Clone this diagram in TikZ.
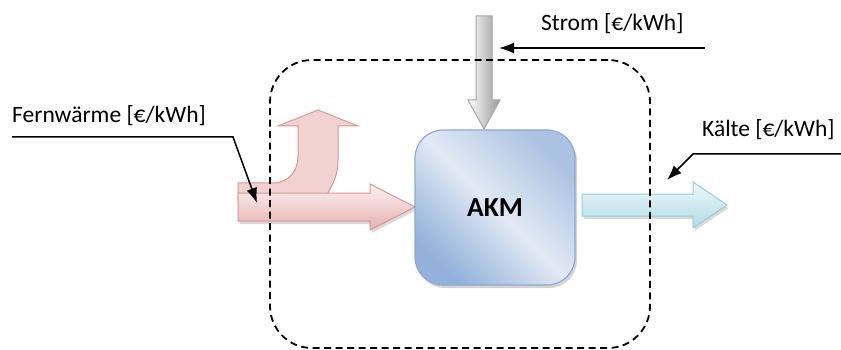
\documentclass[tikz,border=0pt]{standalone}
\usepackage{fontspec}
\setmainfont{Carlito}
\usetikzlibrary{arrows.meta,shadows}
\definecolor{akmdark}{HTML}{93B1DA}
\definecolor{akmlight}{HTML}{E2EAF4}
\definecolor{akmborder}{HTML}{8DA9D2}
\definecolor{redtop}{HTML}{FCF1F1}
\definecolor{redbot}{HTML}{E5B1B0}
\definecolor{redborder}{HTML}{D99593}
\definecolor{bentfill}{HTML}{F2D2D1}
\definecolor{cyantop}{HTML}{EEF8FA}
\definecolor{cyanbot}{HTML}{B2DCE6}
\definecolor{cyanborder}{HTML}{93CDDC}
\definecolor{grayborder}{HTML}{A6A6A6}
\definecolor{grayfill}{HTML}{989898}
\begin{document}
\begin{tikzpicture}[x=1pt,y=-1pt,
  lbl/.style={font=\fontsize{23.5}{28}\selectfont, inner sep=0pt, text=black},
  akmbox/.style={draw=akmborder, line width=1.2pt, rounded corners=28pt,
    minimum width=160pt, minimum height=155pt,
    left color=akmdark, right color=akmdark!70!akmlight, middle color=akmlight, shading angle=135,
    drop shadow={shadow xshift=2pt, shadow yshift=-3pt, opacity=0.35},
    font=\bfseries\fontsize{27.5}{32}\selectfont},
  sysbox/.style={draw=black, line width=1.8pt, dash pattern=on 7pt off 4.5pt,
    rounded corners=42pt, minimum width=380pt, minimum height=288pt},
  redarrow/.style={draw=redborder, line width=1pt, top color=redtop, bottom color=redbot,
    drop shadow={shadow xshift=1.5pt, shadow yshift=-3pt, opacity=0.3}},
  bentarrow/.style={draw=redborder, line width=1pt, fill=bentfill},
  cyanarrow/.style={draw=cyanborder, line width=1pt, top color=cyantop, bottom color=cyanbot,
    drop shadow={shadow xshift=1.5pt, shadow yshift=-3pt, opacity=0.3}},
  grayarrow/.style={draw=grayborder, line width=1pt, left color=white, right color=grayfill},
  pointer/.style={draw=black, line width=1.5pt, -{Latex[length=15pt,width=11pt]}}
]
\useasboundingbox (0,0) rectangle (841,350);

% bent (upward) red arrow
\path[bentarrow] (238,183) -- (272,183) .. controls (288,183) and (298,172) .. (298,156)
  -- (298,126) -- (278,126) -- (318,110) -- (358,126) -- (338,126) -- (338,160)
  .. controls (338,178) and (330,190) .. (323,200) -- (238,200) -- cycle;
% main red arrow
\path[redarrow] (238,193) -- (370,193) -- (370,184) -- (415,207) -- (370,230)
  -- (370,221) -- (238,221) -- cycle;
% gray arrow (Strom)
\path[grayarrow] (476,16) -- (492,16) -- (492,100) -- (500,100) -- (484,129)
  -- (468,100) -- (476,100) -- cycle;
% cyan arrow (Kaelte)
\path[cyanarrow] (582,194) -- (693,194) -- (693,182) -- (727,205) -- (693,228)
  -- (693,216) -- (582,216) -- cycle;

% AKM box
\node[akmbox] (akm) at (495,207.5) {AKM};

% system boundary
\node[sysbox] (sys) at (460,204) {};

% labels
\node[lbl, anchor=base west] (strom) at (541,31) {Strom [€/kWh]};
\node[lbl, anchor=base west] (fw) at (12,123) {Fernwärme [€/kWh]};
\node[lbl, anchor=base west] (kaelte) at (702,137) {Kälte [€/kWh]};

% pointers
\coordinate (stromStart) at (705,48);
\coordinate (stromTip) at (499,48);
\coordinate (fwStart) at (12,137);
\coordinate (fwBend) at (233,137);
\coordinate (fwTip) at (257,203);
\coordinate (kStart) at (841,154);
\coordinate (kBend) at (693,154);
\coordinate (kTip) at (667,180);
\draw[pointer] (stromStart) -- (stromTip);
\draw[pointer] (fwStart) -- (fwBend) -- (fwTip);
\draw[pointer] (kStart) -- (kBend) -- (kTip);
\end{tikzpicture}
\end{document}
